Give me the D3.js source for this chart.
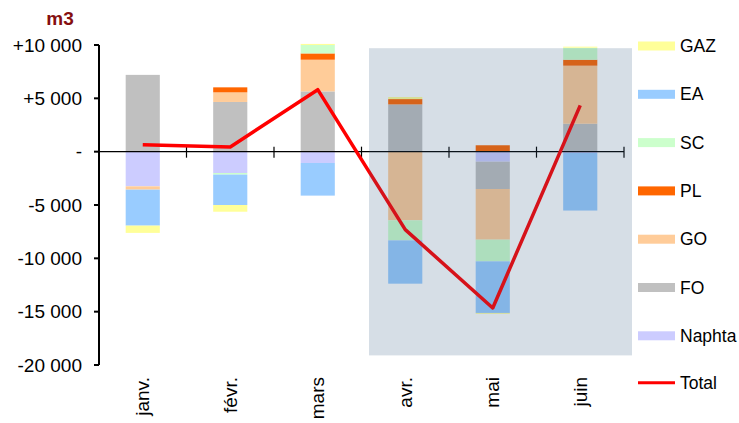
<!DOCTYPE html>
<html>
<head>
<meta charset="utf-8">
<script src="https://cdn.jsdelivr.net/npm/d3@7"></script>
<style>
  body { margin: 0; background: #fff; }
  text { font-family: "Liberation Sans", Arial, sans-serif; }
</style>
</head>
<body>
<script>
var months = ["janv.", "févr.", "mars", "avr.", "mai", "juin"];
// stacking order (first one sits next to zero)
var seriesNames = ["Naphta", "FO", "GO", "PL", "SC", "EA", "GAZ"];
var naphta = [-3250, -2000, -1060, 0, -940, -120];
var fo     = [7200, 4660, 5650, 4430, -2560, 2620];
var go     = [-310, 900, 2970, -6440, -4750, 5440];
var pl     = [0, 470, 590, 500, 600, 560];
var sc     = [0, -150, 790, -1875, -2030, 1125];
var ea     = [-3375, -2850, -3060, -4060, -4840, -5400];
var gaz    = [-680, -630, 100, 190, -80, 100];
var total  = [650, 440, 5810, -7310, -14650, 4340];
var yTicks = [10000, 5000, 0, -5000, -10000, -15000, -20000];
var legendOrder = ["GAZ", "EA", "SC", "PL", "GO", "FO", "Naphta"];

var colors = {
    Naphta: "#ccccff",
    FO: "#c0c0c0",
    GO: "#ffcc99",
    PL: "#ff6600",
    SC: "#ccffcc",
    EA: "#99ccff",
    GAZ: "#ffff99"
};

var values = { Naphta: naphta, FO: fo, GO: go, PL: pl, SC: sc, EA: ea, GAZ: gaz };
var table = months.map(function(m, i) {
    var row = { month: m };
    seriesNames.forEach(function(s) { row[s] = values[s][i]; });
    return row;
});

var width = 739, height = 423;
var svg = d3.select("body").append("svg")
    .attr("width", width)
    .attr("height", height);

var x = d3.scaleBand().domain(months).range([99, 624]).padding(0);
var y = d3.scaleLinear().domain([-20000, 10000]).range([365, 45]);
var barW = x.bandwidth() * 0.39;

var stack = d3.stack().keys(seriesNames).offset(d3.stackOffsetDiverging);
var layers = stack(table);

var bars = svg.append("g");
bars.selectAll("g")
    .data(layers)
    .enter().append("g")
    .attr("fill", function(d) { return colors[d.key]; })
    .selectAll("rect")
    .data(function(d) { return d; })
    .enter().append("rect")
    .attr("x", function(d) { return x(d.data.month) + (x.bandwidth() - barW) / 2; })
    .attr("y", function(d) { return y(d[1]); })
    .attr("width", barW)
    .attr("height", function(d) { return Math.max(0, y(d[0]) - y(d[1])); });

// x axis on zero
svg.append("line")
    .attr("x1", 99).attr("x2", 624)
    .attr("y1", y(0)).attr("y2", y(0))
    .attr("stroke", "#000").attr("stroke-width", 1.2);
svg.selectAll(".xtick")
    .data(months.concat(["end"]))
    .enter().append("line")
    .attr("class", "xtick")
    .attr("x1", function(d, i) { return 99 + i * x.step(); })
    .attr("x2", function(d, i) { return 99 + i * x.step(); })
    .attr("y1", y(0) - 5).attr("y2", y(0) + 6)
    .attr("stroke", "#000").attr("stroke-width", 1.2);

// total line
var line = d3.line()
    .x(function(d, i) { return x(months[i]) + x.bandwidth() / 2; })
    .y(function(d) { return y(d); });
svg.append("path")
    .datum(total)
    .attr("d", line)
    .attr("fill", "none")
    .attr("stroke", "#ff0000")
    .attr("stroke-width", 3.5)
    .attr("stroke-linejoin", "round");

// shaded quarter
svg.append("rect")
    .attr("x", x("avr.") + 7.5)
    .attr("y", y(9700))
    .attr("width", 624 + 8 - (x("avr.") + 7.5))
    .attr("height", y(-19100) - y(9700))
    .attr("fill", "rgb(50,90,130)")
    .attr("opacity", 0.2);

// y axis
svg.append("line")
    .attr("x1", 99).attr("x2", 99)
    .attr("y1", y(10000)).attr("y2", y(-20000))
    .attr("stroke", "#000").attr("stroke-width", 2);
var fmt = function(v) {
    if (v === 0) return "-";
    return (v > 0 ? "+" : "-") + d3.format(",")(Math.abs(v)).replace(/,/g, " ");
};
var yt = svg.selectAll(".ytick").data(yTicks).enter().append("g")
    .attr("transform", function(d) { return "translate(0," + y(d) + ")"; });
yt.append("line")
    .attr("x1", 94).attr("x2", 99)
    .attr("stroke", "#000").attr("stroke-width", 2);
yt.append("text")
    .attr("x", 82)
    .attr("dy", "0.35em")
    .attr("text-anchor", "end")
    .style("font-size", "19px")
    .attr("fill", "#000")
    .text(fmt);

// month labels
svg.selectAll(".mlab").data(months).enter().append("text")
    .attr("transform", function(d) {
        return "translate(" + (x(d) + x.bandwidth() / 2) + ",377) rotate(-90)";
    })
    .attr("dy", "0.35em")
    .attr("text-anchor", "end")
    .style("font-size", "19px")
    .text(function(d) { return d; });

// unit
svg.append("text")
    .attr("x", 60).attr("y", 25)
    .attr("text-anchor", "middle")
    .style("font-size", "19px")
    .style("font-weight", "bold")
    .attr("fill", "#850f0f")
    .text("m3");

// legend
var leg = svg.selectAll(".leg").data(legendOrder).enter().append("g")
    .attr("transform", function(d, i) { return "translate(638," + (46 + i * 48.3) + ")"; });
leg.append("rect")
    .attr("x", 0).attr("y", -4.5)
    .attr("width", 37).attr("height", 9)
    .attr("fill", function(d) { return colors[d]; });
leg.append("text")
    .attr("x", 42).attr("dy", "0.35em")
    .style("font-size", "17.5px")
    .text(function(d) { return d; });

var lt = svg.append("g").attr("transform", "translate(638," + (46 + 7 * 48.1) + ")");
lt.append("line").attr("x1", 0).attr("x2", 37)
    .attr("stroke", "#ff0000").attr("stroke-width", 3);
lt.append("text").attr("x", 42).attr("dy", "0.35em")
    .style("font-size", "17.5px")
    .text("Total");
</script>
</body>
</html>
